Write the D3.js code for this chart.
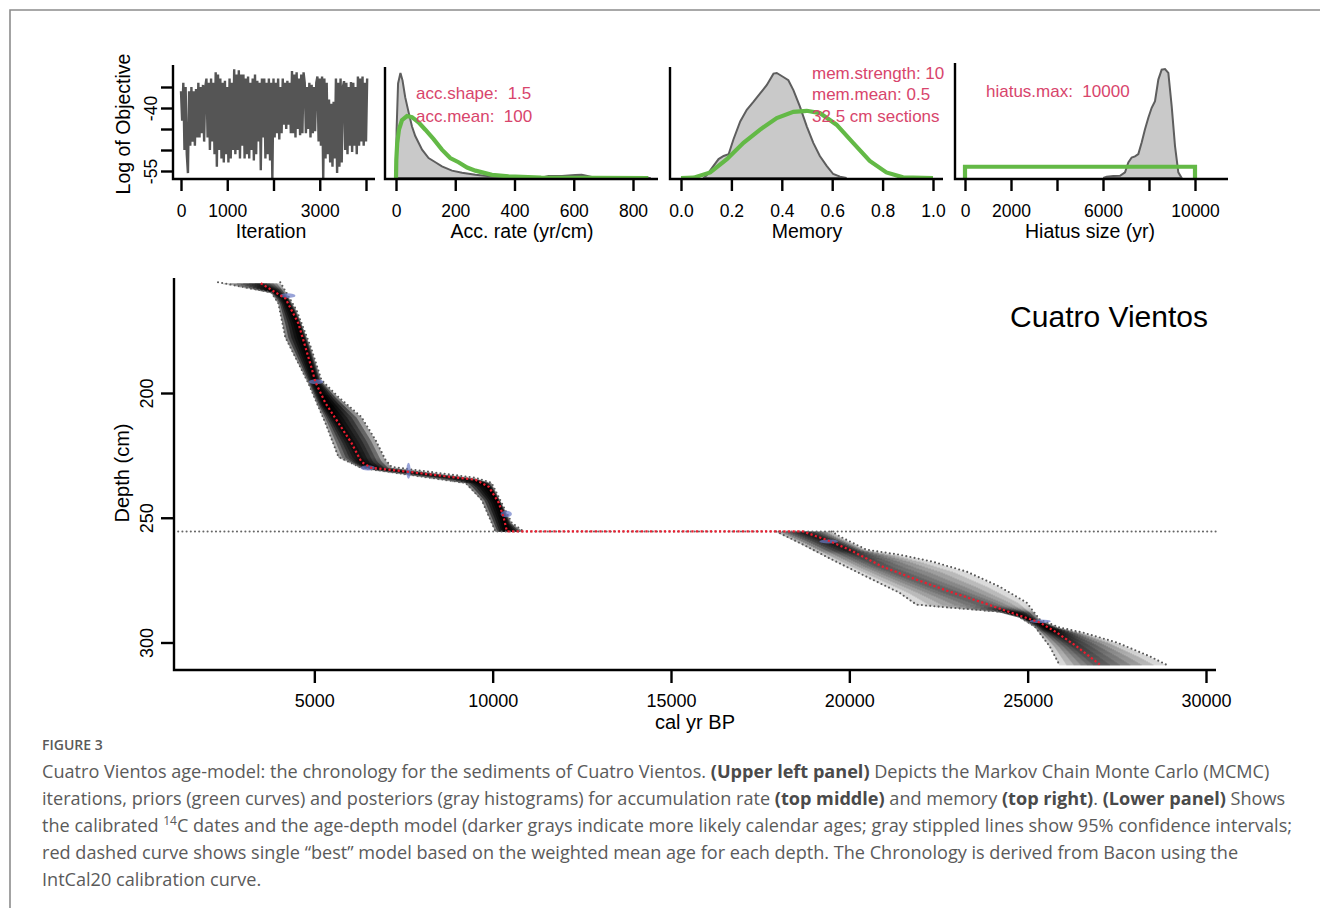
<!DOCTYPE html>
<html>
<head>
<meta charset="utf-8">
<script src="https://cdn.jsdelivr.net/npm/d3@7"></script>
<style>
  body { margin: 0; background: #fff; }
  svg { display: block; }
  .cap { font-family: "Open Sans", sans-serif; fill: #5a5a5a; }
</style>
</head>
<body>
<svg id="chart" width="1320" height="908"></svg>
<script>
// ---- MCMC trace (log of objective), one value every iterStep iterations
const iterStep = 25
const logObjective = [
  -36, -43,
  -34, -50, -35, -51,
  -55.5,
  -36, -49,
  -35, -48, -36, -49, -35.5, -47,
  -34, -47, -35, -46, -34.5, -48, -35,
  -33, -47, -34, -50, -33, -48, -34, -51,
  -31.5, -54, -32, -50,
  -33, -52, -34, -53, -33.5, -51, -35, -53, -33, -52, -34, -50,
  -30.8, -51, -32, -50, -31, -52, -32, -49,
  -32, -52, -33, -51, -32.5, -52, -34, -50, -33, -52.5, -32, -51,
  -33.5, -48, -34, -54.8, -33, -47,
  -33, -52, -34, -51, -33, -52.5, -34,
  -57,
  -33, -47, -34, -46, -33, -47.5, -35, -46,
  -33, -44, -34, -45, -33.5, -44, -34, -46,
  -31.2, -46, -32, -47, -31.5, -45, -33, -46.5, -32, -46, -31.5,
  -34, -46, -35, -45, -34, -47, -34.5, -46, -35, -45.5, -34,
  -32.5, -48, -33, -49, -32.5,
  -57,
  -33, -52, -34, -51,
  -38, -53, -39, -54, -38.5, -52,
  -33, -55.5, -34, -54, -33, -53, -35,
  -33.6, -50, -34, -51, -35, -49, -33.8, -50.5, -34, -49, -35, -51,
  -32.5, -49, -33, -48, -32.5, -49, -34, -48, -33
]
const iterTicks = [0, 1000, 2000, 3000, 4000]
const iterLabels = ["0", "1000", "", "3000", ""]
const objTicks = [-35, -40, -45, -50, -55]
const objLabels = ["", "-40", "", "", "-55"]

// ---- accumulation rate: posterior (gray) and prior (green), relative density
const accRate = [0, 1, 2, 7, 15, 22, 31, 43, 54, 65, 88, 110, 133, 155, 189, 223, 268, 324, 380, 490, 515, 560, 605, 627, 650, 672, 860]
const accPost = [0, 0.2, 0.46, 0.9, 1.0, 0.93, 0.77, 0.62, 0.49, 0.40, 0.27, 0.19, 0.15, 0.11, 0.07, 0.05, 0.03, 0.015, 0.006, 0.003, 0.018, 0.02, 0.028, 0.03, 0.018, 0.003, 0]
const accPriorRate = [0, 1, 4, 10, 20, 37, 54, 76, 99, 127, 155, 183, 211, 240, 268, 324, 380, 490, 852]
const accPrior = [0, 0.17, 0.33, 0.46, 0.55, 0.59, 0.58, 0.53, 0.46, 0.37, 0.27, 0.19, 0.15, 0.1, 0.07, 0.03, 0.015, 0.003, 0]
const accTicks = [0, 200, 400, 600, 800]

// ---- memory
const memVal = [0.09, 0.103, 0.129, 0.149, 0.169, 0.189, 0.208, 0.235, 0.261, 0.288, 0.314, 0.340, 0.367, 0.380, 0.406, 0.426, 0.446, 0.472, 0.499, 0.525, 0.551, 0.578, 0.604, 0.631, 0.657]
const memPost = [0, 0.03, 0.116, 0.18, 0.21, 0.226, 0.367, 0.539, 0.649, 0.727, 0.806, 0.884, 0.994, 1.0, 0.962, 0.931, 0.837, 0.680, 0.492, 0.335, 0.21, 0.116, 0.038, 0.013, 0]
const memPriorVal = [0, 0.05, 0.116, 0.182, 0.248, 0.314, 0.380, 0.446, 0.499, 0.551, 0.617, 0.683, 0.749, 0.815, 0.881, 1.0]
const memPrior = [0, 0.003, 0.053, 0.179, 0.335, 0.461, 0.571, 0.630, 0.640, 0.618, 0.508, 0.335, 0.163, 0.053, 0.006, 0]
const memTicks = [0, 0.2, 0.4, 0.6, 0.8, 1.0]

// ---- hiatus size
const hiatusVal = [6014, 6159, 6449, 6739, 6957, 7101, 7246, 7391, 7536, 7681, 7826, 7971, 8116, 8261, 8406, 8551, 8696, 8841, 8986, 9130, 9275, 9420]
const hiatusPost = [0, 0.012, 0.018, 0.021, 0.052, 0.143, 0.188, 0.198, 0.219, 0.325, 0.447, 0.553, 0.644, 0.705, 0.903, 0.994, 1.0, 0.964, 0.660, 0.295, 0.052, 0]
const hiatusPriorVal = [0, 0, 10000, 10000]
const hiatusPrior = [0, 0.103, 0.103, 0]
const hiatusTicks = [0, 2000, 4000, 6000, 8000, 10000]
const hiatusLabels = ["0", "2000", "", "6000", "", "10000"]

// ---- age-depth model (cal yr BP vs depth cm)
const hiatusDepth = 255.5
const upperDepth = [156, 159.6, 162, 172, 189.6, 195.6, 204, 212, 220, 227.6, 230, 231.6, 234.8, 237.6, 244, 250, 255.5]
const upperBest = [3500, 3900, 4185, 4550, 4915, 5030, 5310, 5675, 6040, 6320, 6600, 7640, 9520, 9890, 10170, 10310, 10400]
const upperMinDepth = [155.6, 159.6, 164, 177.6, 188, 196, 212, 225.6, 230, 236, 242.8, 255.5]
const upperMin = [2300, 3790, 3990, 4185, 4550, 4830, 5310, 5675, 6320, 9240, 9690, 10080]
const upperMaxDepth = [155.6, 166.8, 181.6, 194.8, 201.6, 209.6, 218.8, 226.8, 229.6, 234, 236, 244, 252, 255.5]
const upperMax = [4045, 4500, 4900, 5200, 5675, 6320, 6715, 6995, 7165, 9520, 9970, 10250, 10535, 10870]

const lowerDepth = [255.5, 258.8, 262.8, 269.6, 274.8, 279.6, 284, 288.8, 292, 296, 301.6, 308.8]
const lowerBest = [18700, 19350, 20000, 20930, 21880, 22810, 23735, 24690, 25340, 25815, 26375, 27020]
const lowerMinDepth = [255.5, 260, 266.8, 273.6, 280, 284.8, 286, 287.6, 289.6, 293.6, 301.6, 309.2]
const lowerMin = [17950, 18600, 19520, 20480, 21400, 21880, 22810, 24210, 24750, 25200, 25620, 25900]
const lowerMaxDepth = [255.5, 258, 262.8, 264.8, 267.6, 271.6, 277.6, 284, 290.8, 294, 296, 300, 305.6, 309.2]
const lowerMax = [19500, 19800, 20480, 21400, 22330, 23290, 24210, 24970, 25340, 25900, 26545, 27500, 28430, 28930]

// calibrated 14C dates: median age, spread (yr), depth
const dateAge = [4250, 5050, 6500, 7640, 10380, 19420, 25350]
const dateErr = [220, 200, 200, 60, 160, 260, 300]
const dateDepth = [161, 195.5, 230, 231.2, 248.5, 259.5, 291.5]

const ageTicks = [5000, 10000, 15000, 20000, 25000, 30000]
const depthTicks = [200, 250, 300]

const svg = d3.select("#chart")
const FONT = '"Liberation Sans", Arial, sans-serif'
const GREEN = "#63b946", RED_TXT = "#d8456c"

// frame
svg.append("path").attr("d", "M10,908V10H1320").attr("fill", "none")
    .attr("stroke", "#8c8c8c").attr("stroke-width", 1.6)

function styleAxis(g, fs) {
    g.select(".domain").remove()
    g.selectAll("line").attr("stroke", "#000").attr("stroke-width", 2.4)
    g.selectAll("text").attr("font-family", FONT).attr("font-size", fs).attr("fill", "#000")
}

function frame(x0, x1, y0, y1) {
    svg.append("path").attr("d", `M${x0},${y0}V${y1}H${x1}`)
        .attr("fill", "none").attr("stroke", "#000").attr("stroke-width", 2.4)
}

function xTitle(txt, x, y, fs) {
    svg.append("text").attr("x", x).attr("y", y).attr("text-anchor", "middle")
        .attr("font-family", FONT).attr("font-size", fs).text(txt)
}

function note(lines, x, ys) {
    lines.forEach((t, i) => svg.append("text").attr("x", x).attr("y", ys[i])
        .attr("font-family", FONT).attr("font-size", 17).attr("fill", RED_TXT)
        .style("white-space", "pre").text(t))
}

const axisY = 179

// ---------- panel 1: trace
{
    const x = d3.scaleLinear().domain([0, 4000]).range([181, 366])
    const y = d3.scaleLinear().domain([-35, -55]).range([87, 171])
    svg.append("path")
        .datum(logObjective)
        .attr("fill", "none").attr("stroke", "#555").attr("stroke-width", 2.4)
        .attr("stroke-linejoin", "bevel")
        .attr("d", d3.line().x((d, i) => x(i * iterStep)).y(d => y(d)))
    frame(173, 375, 65, axisY)
    svg.append("g").attr("transform", `translate(0,${axisY})`)
        .call(d3.axisBottom(x).tickValues(iterTicks).tickFormat((d, i) => iterLabels[i]).tickSize(12).tickPadding(14))
        .call(g => styleAxis(g, 17.5))
    svg.append("g").attr("transform", "translate(173,0)")
        .call(d3.axisLeft(y).tickValues(objTicks).tickFormat((d, i) => objLabels[i]).tickSize(12))
        .call(g => styleAxis(g, 17.5))
        .call(g => g.selectAll("text").attr("x", null).attr("dy", null)
            .attr("text-anchor", "middle").attr("transform", "translate(-16,0) rotate(-90)"))
    xTitle("Iteration", 271, 238, 19.5)
    svg.append("text").attr("transform", "translate(130,124) rotate(-90)")
        .attr("text-anchor", "middle").attr("font-family", FONT).attr("font-size", 19.5)
        .text("Log of Objective")
}

function densityPanel(x, yTop, ax0, ax1, yTopLine, post, prior) {
    const y = d3.scaleLinear().domain([0, 1]).range([178, yTop])
    svg.append("path").datum(d3.zip(post[0], post[1]))
        .attr("fill", "#c9c9c9").attr("stroke", "#5e5e5e").attr("stroke-width", 2)
        .attr("d", d3.area().x(d => x(d[0])).y0(y(0)).y1(d => y(d[1])))
    svg.append("path").datum(d3.zip(prior[0], prior[1]))
        .attr("fill", "none").attr("stroke", GREEN).attr("stroke-width", 4.2)
        .attr("d", d3.line().x(d => x(d[0])).y(d => y(d[1])))
    frame(ax0, ax1, yTopLine, axisY)
}

// ---------- panel 2: accumulation rate
{
    const x = d3.scaleLinear().domain([0, 800]).range([396, 633])
    densityPanel(x, 73, 385, 658, 67, [accRate, accPost], [accPriorRate, accPrior])
    svg.append("g").attr("transform", `translate(0,${axisY})`)
        .call(d3.axisBottom(x).tickValues(accTicks).tickFormat(d3.format("d")).tickSize(12).tickPadding(14))
        .call(g => styleAxis(g, 17.5))
    xTitle("Acc. rate (yr/cm)", 522, 238, 19.5)
    note(["acc.shape:  1.5", "acc.mean:  100"], 416, [99, 122])
}

// ---------- panel 3: memory
{
    const x = d3.scaleLinear().domain([0, 1]).range([681, 933])
    densityPanel(x, 73, 670, 943, 67, [memVal, memPost], [memPriorVal, memPrior])
    svg.append("g").attr("transform", `translate(0,${axisY})`)
        .call(d3.axisBottom(x).tickValues(memTicks).tickFormat(d3.format(".1f")).tickSize(12).tickPadding(14))
        .call(g => styleAxis(g, 17.5))
    xTitle("Memory", 807, 238, 19.5)
    note(["mem.strength: 10", "mem.mean: 0.5", "32.5 cm sections"], 812, [79, 100, 122])
}

// ---------- panel 4: hiatus
{
    const x = d3.scaleLinear().domain([0, 10000]).range([965, 1195])
    densityPanel(x, 69, 955, 1228, 63, [hiatusVal, hiatusPost], [hiatusPriorVal, hiatusPrior])
    svg.append("g").attr("transform", `translate(0,${axisY})`)
        .call(d3.axisBottom(x).tickValues(hiatusTicks).tickFormat((d, i) => hiatusLabels[i]).tickSize(12).tickPadding(14))
        .call(g => styleAxis(g, 17.5))
    xTitle("Hiatus size (yr)", 1090, 238, 19.5)
    note(["hiatus.max:  10000"], 986, [97])
}

// ---------- main age-depth panel
{
    const x = d3.scaleLinear().domain([0, 30000]).range([136, 1206])
    const y = d3.scaleLinear().domain([200, 300]).range([393, 642.5])
    const plot = svg.append("g")

    // gray shading: darker where the 95% range is narrow
    const sections = [
        [upperDepth, upperBest, upperMinDepth, upperMin, upperMaxDepth, upperMax],
        [lowerDepth, lowerBest, lowerMinDepth, lowerMin, lowerMaxDepth, lowerMax]
    ]
    const levels = [1, 0.82, 0.64, 0.47, 0.31, 0.16]
    const shade = plot.append("g")
    sections.forEach(([bd, ba, nd, na, xd, xa]) => {
        const best = d3.scaleLinear().domain(bd).range(ba).clamp(true)
        const lo = d3.scaleLinear().domain(nd).range(na).clamp(true)
        const hi = d3.scaleLinear().domain(xd).range(xa).clamp(true)
        const d0 = Math.max(bd[0], nd[0], xd[0]), d1 = Math.min(bd[bd.length - 1], nd[nd.length - 1], xd[xd.length - 1])
        const step = 0.4
        d3.range(d0, d1, step).forEach(d => {
            const b = best(d), l = Math.min(lo(d), b), h = Math.max(hi(d), b)
            const o = Math.min(0.42, 360 / Math.max(1, h - l))
            levels.forEach(k => {
                const a0 = b - k * (b - l), a1 = b + k * (h - b)
                shade.append("rect")
                    .attr("x", x(a0)).attr("width", Math.max(0.5, x(a1) - x(a0)))
                    .attr("y", y(d)).attr("height", y(d + step) - y(d) + 0.3)
                    .attr("fill", "#000").attr("fill-opacity", o)
            })
        })
    })

    // hiatus line
    plot.append("line").attr("x1", 174).attr("x2", 1216)
        .attr("y1", y(hiatusDepth)).attr("y2", y(hiatusDepth))
        .attr("stroke", "#666").attr("stroke-width", 2.1).attr("stroke-linecap", "round")
        .attr("stroke-dasharray", "0,4.2")

    // 95% ranges
    const ln = d3.line().x(d => x(d[1])).y(d => y(d[0]))
    ;[[upperMinDepth, upperMin], [upperMaxDepth, upperMax], [lowerMinDepth, lowerMin], [lowerMaxDepth, lowerMax]]
        .forEach(([dd, aa]) => plot.append("path").datum(d3.zip(dd, aa))
            .attr("fill", "none").attr("stroke", "#5a5a5a").attr("stroke-width", 2.1)
            .attr("stroke-linecap", "round").attr("stroke-dasharray", "0,4.2").attr("d", ln))

    // calibrated dates
    plot.selectAll("ellipse").data(dateAge).join("ellipse")
        .attr("cx", d => x(d)).attr("cy", (d, i) => y(dateDepth[i]))
        .attr("rx", (d, i) => x(d + dateErr[i]) - x(d))
        .attr("ry", (d, i) => Math.min(8, 2.6 * 200 / dateErr[i]))
        .attr("fill", "#6c7cc8").attr("fill-opacity", 0.7)

    // best model
    plot.append("path").datum(d3.zip(upperDepth.concat(lowerDepth), upperBest.concat(lowerBest)))
        .attr("fill", "none").attr("stroke", "#ee1c2e").attr("stroke-width", 2.2)
        .attr("stroke-dasharray", "2.2,2.4").attr("d", ln)

    frame(174, 1216, 278, 670)
    svg.append("g").attr("transform", "translate(0,670)")
        .call(d3.axisBottom(x).tickValues(ageTicks).tickFormat(d3.format("d")).tickSize(13).tickPadding(11))
        .call(g => styleAxis(g, 18))
    svg.append("g").attr("transform", "translate(174,0)")
        .call(d3.axisLeft(y).tickValues(depthTicks).tickFormat(d3.format("d")).tickSize(13))
        .call(g => styleAxis(g, 18))
        .call(g => g.selectAll("text").attr("x", null).attr("dy", null)
            .attr("text-anchor", "middle").attr("transform", "translate(-21,0) rotate(-90)"))

    xTitle("cal yr BP", 695, 729, 20)
    svg.append("text").attr("transform", "translate(129,473) rotate(-90)")
        .attr("text-anchor", "middle").attr("font-family", FONT).attr("font-size", 20)
        .text("Depth (cm)")
    svg.append("text").attr("x", 1208).attr("y", 327).attr("text-anchor", "end")
        .attr("font-family", FONT).attr("font-size", 30).text("Cuatro Vientos")
}

// ---------- caption
{
    const cx = 42
    svg.append("text").attr("class", "cap").attr("x", cx).attr("y", 750)
        .attr("font-size", 14).attr("font-weight", 600).text("FIGURE 3")
    const lines = [
        [["Cuatro Vientos age-model: the chronology for the sediments of Cuatro Vientos. "], ["(Upper left panel)", "b"], [" Depicts the Markov Chain Monte Carlo (MCMC)"]],
        [["iterations, priors (green curves) and posteriors (gray histograms) for accumulation rate "], ["(top middle)", "b"], [" and memory "], ["(top right)", "b"], [". "], ["(Lower panel)", "b"], [" Shows"]],
        [["the calibrated "], ["14", "sup"], ["C dates and the age-depth model (darker grays indicate more likely calendar ages; gray stippled lines show 95% confidence intervals;", "after"]],
        [["red dashed curve shows single \u201cbest\u201d model based on the weighted mean age for each depth. The Chronology is derived from Bacon using the"]],
        [["IntCal20 calibration curve."]]
    ]
    lines.forEach((parts, i) => {
        const t = svg.append("text").attr("class", "cap").attr("x", cx).attr("y", 778 + i * 27)
            .attr("font-size", 18.1)
        parts.forEach(([s, kind]) => {
            const sp = t.append("tspan").text(s)
            if (kind === "b") sp.attr("font-weight", 700).attr("fill", "#4a4a4a")
            if (kind === "sup") sp.attr("font-size", 12).attr("dy", -7)
            if (kind === "after") sp.attr("dy", 7)
        })
    })
}
</script>
</body>
</html>
